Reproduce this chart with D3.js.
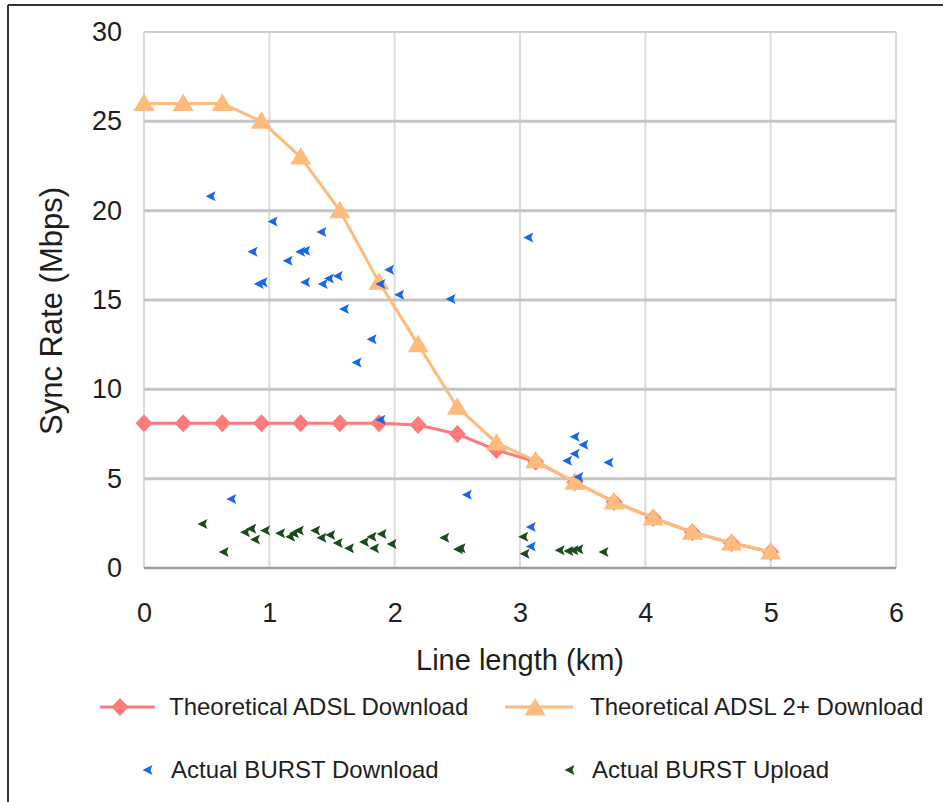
<!DOCTYPE html>
<html><head><meta charset="utf-8">
<script src="https://cdn.jsdelivr.net/npm/d3@7"></script>
<style>body{margin:0;background:#fff}svg{display:block;font-family:"Liberation Sans",Arial,sans-serif}</style>
</head><body><svg id="c" width="943" height="802"></svg>
<script>
const lineX = [0,0.3125,0.625,0.9375,1.25,1.5625,1.875,2.1875,2.5,2.8125,3.125,3.4375,3.75,4.0625,4.375,4.6875,5];
const adsl = [8.1,8.1,8.1,8.1,8.1,8.1,8.1,8.0,7.5,6.6,5.95,4.8,3.7,2.8,2.0,1.4,0.9];
const adsl2 = [26,26,26,25,23,20,16,12.5,9,7,6,4.8,3.7,2.8,2.0,1.4,0.9];
const dlX = [0.535,1.03,0.87,1.15,1.25,1.29,1.42,0.92,0.95,1.29,1.43,1.48,1.55,1.6,1.96,1.89,2.04,2.45,3.07,1.82,1.7,0.70,1.89,2.58,3.44,3.51,3.44,3.38,3.47,3.71,3.09,3.09];
const dlY = [20.8,19.4,17.7,17.2,17.7,16.0,18.8,15.9,16.0,17.75,15.9,16.2,16.35,14.5,16.7,15.9,15.3,15.05,18.5,12.8,11.5,3.86,8.3,4.1,7.35,6.9,6.4,6.0,5.1,5.9,2.3,1.2];
const ulX = [0.47,0.64,0.81,0.86,0.89,0.97,1.09,1.17,1.2,1.24,1.37,1.42,1.49,1.55,1.64,1.76,1.82,1.84,1.9,1.98,2.4,2.51,2.53,3.03,3.04,3.32,3.39,3.43,3.47,3.67];
const ulY = [2.46,0.9,2.0,2.2,1.6,2.1,1.95,1.75,1.95,2.1,2.1,1.7,1.85,1.4,1.1,1.45,1.75,1.1,1.9,1.35,1.7,1.05,1.1,1.75,0.8,1.0,0.95,1.0,1.05,0.9];
const xTicks = [0,1,2,3,4,5,6];
const yTicks = [0,5,10,15,20,25,30];
const labels = ["Theoretical ADSL Download","Theoretical ADSL 2+ Download","Actual BURST Download","Actual BURST Upload"];
const cRed="#fb7a7a", cOr="#fdbb7c", cBlue="#1767ee", cGreen="#1c4a1c";
const txt="#1e1e1e";

const svg = d3.select("#c");
const x = d3.scaleLinear().domain([0,6]).range([144,896]);
const y = d3.scaleLinear().domain([0,30]).range([568,32]);

svg.append("line").attr("x1",8).attr("y1",5).attr("x2",943).attr("y2",5).attr("stroke","#333").attr("stroke-width",2);
svg.append("line").attr("x1",8).attr("y1",5).attr("x2",8).attr("y2",802).attr("stroke","#333").attr("stroke-width",2);

const g = svg.append("g");
g.selectAll(".vg").data(xTicks).join("line")
  .attr("x1",d=>x(d)).attr("x2",d=>x(d)).attr("y1",y(30)).attr("y2",y(0))
  .attr("stroke","#dcdcdc").attr("stroke-width",2);
g.selectAll(".hg").data(yTicks.filter(d=>d>0&&d<30)).join("line")
  .attr("x1",x(0)).attr("x2",x(6)).attr("y1",d=>y(d)).attr("y2",d=>y(d))
  .attr("stroke","#c4c4c4").attr("stroke-width",3);
g.append("line").attr("x1",x(0)).attr("x2",x(6)).attr("y1",y(30)).attr("y2",y(30)).attr("stroke","#cfcfcf").attr("stroke-width",2);
g.append("line").attr("x1",x(0)).attr("x2",x(6)).attr("y1",y(0)).attr("y2",y(0)).attr("stroke","#9a9a9a").attr("stroke-width",2.5);

const ax = svg.append("g").attr("transform",`translate(0,${y(0)})`)
  .call(d3.axisBottom(x).tickValues(xTicks).tickSize(0).tickPadding(35).tickFormat(d3.format("d")));
const ay = svg.append("g").attr("transform",`translate(${x(0)},0)`)
  .call(d3.axisLeft(y).tickValues(yTicks).tickSize(0).tickPadding(22).tickFormat(d3.format("d")));
[ax,ay].forEach(a=>{a.select(".domain").remove();a.selectAll("text").attr("font-size",27).attr("fill",txt).attr("font-family","Liberation Sans, Arial, sans-serif");});

svg.append("text").attr("x",520).attr("y",670).attr("text-anchor","middle").attr("font-size",29).attr("fill",txt).text("Line length (km)");
svg.append("text").attr("transform","translate(62,311) rotate(-90)").attr("text-anchor","middle").attr("font-size",31).attr("fill",txt).text("Sync Rate (Mbps)");

const diamondPath = "M0,-9L8.5,0L0,9L-8.5,0Z";
const triPath = "M0,-10L10.5,7.5L-10.5,7.5Z";
const arrowPath = "M-5.5,0L4.5,-5L2.5,0L4.5,5Z";

const line = d3.line().x((d,i)=>x(lineX[i])).y(d=>y(d));
svg.append("path").attr("d",line(adsl)).attr("fill","none").attr("stroke",cRed).attr("stroke-width",3);
svg.selectAll(".dm").data(adsl).join("path").attr("d",diamondPath)
  .attr("transform",(d,i)=>`translate(${x(lineX[i])},${y(d)})`).attr("fill",cRed);
svg.append("path").attr("d",line(adsl2)).attr("fill","none").attr("stroke",cOr).attr("stroke-width",3);
svg.selectAll(".tr").data(adsl2).join("path").attr("d",triPath)
  .attr("transform",(d,i)=>`translate(${x(lineX[i])},${y(d)})`).attr("fill",cOr);
svg.selectAll(".ul").data(ulY).join("path").attr("d",arrowPath)
  .attr("transform",(d,i)=>`translate(${x(ulX[i])},${y(d)})`).attr("fill",cGreen);
svg.selectAll(".dl").data(dlY).join("path").attr("d",arrowPath)
  .attr("transform",(d,i)=>`translate(${x(dlX[i])},${y(d)})`).attr("fill",cBlue);

const lg = svg.append("g").attr("font-size",24).attr("fill",txt);
lg.append("line").attr("x1",100).attr("x2",155).attr("y1",707).attr("y2",707).attr("stroke",cRed).attr("stroke-width",3);
lg.append("path").attr("d",diamondPath).attr("transform","translate(120,707)").attr("fill",cRed);
lg.append("text").attr("x",169).attr("y",715).text(labels[0]);
lg.append("line").attr("x1",505).attr("x2",573).attr("y1",707).attr("y2",707).attr("stroke",cOr).attr("stroke-width",3);
lg.append("path").attr("d",triPath).attr("transform","translate(535,708)").attr("fill",cOr);
lg.append("text").attr("x",590).attr("y",715).text(labels[1]);
lg.append("path").attr("d",arrowPath).attr("transform","translate(148,770)").attr("fill",cBlue);
lg.append("text").attr("x",171).attr("y",778).text(labels[2]);
lg.append("path").attr("d",arrowPath).attr("transform","translate(570,770)").attr("fill",cGreen);
lg.append("text").attr("x",592).attr("y",778).text(labels[3]);
</script></body></html>
